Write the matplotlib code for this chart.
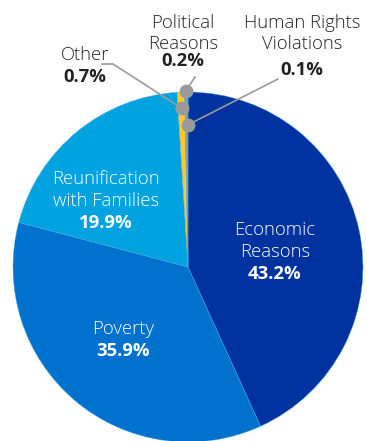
import numpy as np
import matplotlib.pyplot as plt

plt.rcParams['font.family'] = ['Open Sans', 'DejaVu Sans']

# data
labels = ['Economic\nReasons', 'Poverty', 'Reunification\nwith Families',
          'Other', 'Political\nReasons', 'Human Rights\nViolations']
values = [43.2, 35.9, 19.9, 0.7, 0.2, 0.1]
colors = ['#0033a0', '#0072ce', '#00a3e0', '#ffc72c', '#8fa08f', '#9a9a9a']

W, H = 367, 441
fig = plt.figure(figsize=(W / 100, H / 100), dpi=100)
ax = fig.add_axes([0, 0, 1, 1])

cx, cy, R = 188, H - 267, 175
wedges, _ = ax.pie(values, colors=colors, startangle=90, counterclock=False,
                   center=(cx, cy), radius=R,
                   wedgeprops=dict(linewidth=0.3, edgecolor='#4aa8e4'))
ax.set_xlim(0, W)
ax.set_ylim(0, H)
ax.set_aspect('equal')
ax.axis('off')


def Y(y):
    return H - y


txt = '#222222'
fs = 13.3

# labels inside the big slices: (x, y of first line) in pixels
inside = {0: (275, 230), 1: (123, 329), 2: (106, 179)}
for i, (x, y) in inside.items():
    lines = labels[i].split('\n')
    for k, line in enumerate(lines):
        ax.text(x, Y(y + 22 * k), line, color='white', fontsize=fs,
                fontweight='light', ha='center', va='center')
    ax.text(x, Y(y + 22 * len(lines)), f'{values[i]}%', color='white',
            fontsize=fs, fontweight='bold', ha='center', va='center')


def wedge_point(i, r):
    w = wedges[i]
    a = np.deg2rad((w.theta1 + w.theta2) / 2)
    return cx + r * np.cos(a), cy + r * np.sin(a)


# small slices: label position, line path end, radius of dot
outside = {
    3: dict(x=85, y=55, pct_y=77, path=[(102, 64), (113, 64)], r=159),
    4: dict(x=183, y=23, pct_y=61, path=[(195, 77)], r=176),
    5: dict(x=302, y=23, pct_y=70, path=[(278, 79)], r=142),
}
for i, o in outside.items():
    lines = labels[i].split('\n')
    for k, line in enumerate(lines):
        ax.text(o['x'], Y(o['y'] + 21 * k), line, color=txt, fontsize=fs,
                fontweight='light', ha='center', va='center')
    ax.text(o['x'], Y(o['pct_y']), f'{values[i]}%', color=txt,
            fontsize=fs, fontweight='bold', ha='center', va='center')
    px, py = wedge_point(i, o['r'])
    xs = [p[0] for p in o['path']] + [px]
    ys = [Y(p[1]) for p in o['path']] + [py]
    ax.plot(xs, ys, color='#9a9a9a', lw=1.2, zorder=3)
    ax.plot([px], [py], 'o', color='#9a9a9a', ms=9, zorder=4)

fig.savefig('out.png', dpi=100)
